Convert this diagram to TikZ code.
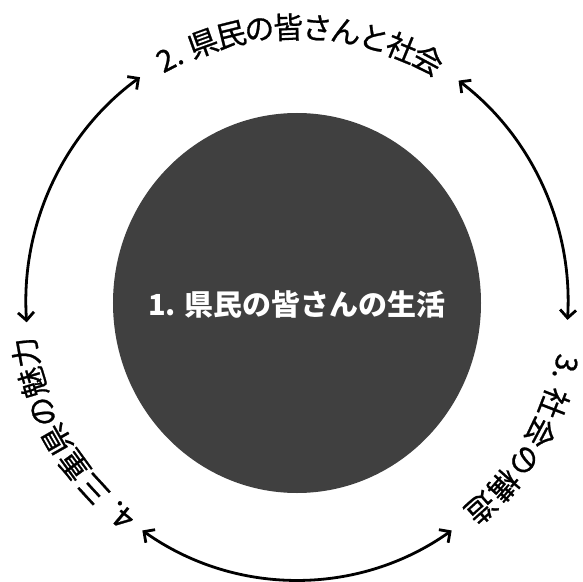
\documentclass[tikz,border=0pt]{standalone}
\usepackage{fontspec}
\newfontfamily\cjk{Noto Sans CJK JP}
\newfontfamily\cjkring[FakeBold=0.8]{Noto Sans CJK JP}
\usetikzlibrary{arrows.meta,shapes.geometric}
\begin{document}
\begin{tikzpicture}[x=1pt,y=1pt,>={Straight Barb[length=8pt,width=16pt]},line join=round,line cap=round,
	glyph/.style={font=\cjkring\fontsize{30}{30}\selectfont,inner sep=0pt},
	link/.style={<->,line width=2.8pt}]
	\useasboundingbox (-297,-278) rectangle (286,303);
	\node[ellipse,fill=black!75,minimum width=368pt,minimum height=380pt,inner sep=0pt] (core) at (0,0) {};
	\node[text=white,font=\cjk\bfseries\fontsize{29}{29}\selectfont] (life) at (0,-1) {1. 県民の皆さんの生活};
	% labels round the ring, one glyph at a time
	\node[glyph,rotate=27.5] (top0) at (117.5:276) {2.};
	\foreach \ch [count=\i from 0] in {県,民,の,皆,さ,ん,と,社,会}
		\node[glyph,rotate={19.9-6.03*\i}] (top\i) at ({109.9-6.03*\i}:276) {\ch};
	\node[glyph,rotate=-103.5] (right0) at (-13.5:276) {3.};
	\foreach \ch [count=\i from 0] in {社,会,の,構,造}
		\node[glyph,rotate={-111.3-6.7*\i}] (right\i) at ({-21.3-6.7*\i}:276) {\ch};
	\node[glyph,rotate=140.3] (left0) at (230.3:276) {4.};
	\foreach \ch [count=\i from 0] in {三,重,県,の,魅,力}
		\node[glyph,rotate={132.5-6.44*\i}] (left\i) at ({222.5-6.44*\i}:276) {\ch};
	% arrows
	\draw[link] (184:271 and 277) arc[start angle=184,end angle=125.4,x radius=271,y radius=277];
	\draw[link] (53.4:271 and 277) arc[start angle=53.4,end angle=-3.5,x radius=271,y radius=277];
	\draw[link] (-55.2:271 and 277) arc[start angle=-55.2,end angle=-124.8,x radius=271,y radius=277];
\end{tikzpicture}
\end{document}
